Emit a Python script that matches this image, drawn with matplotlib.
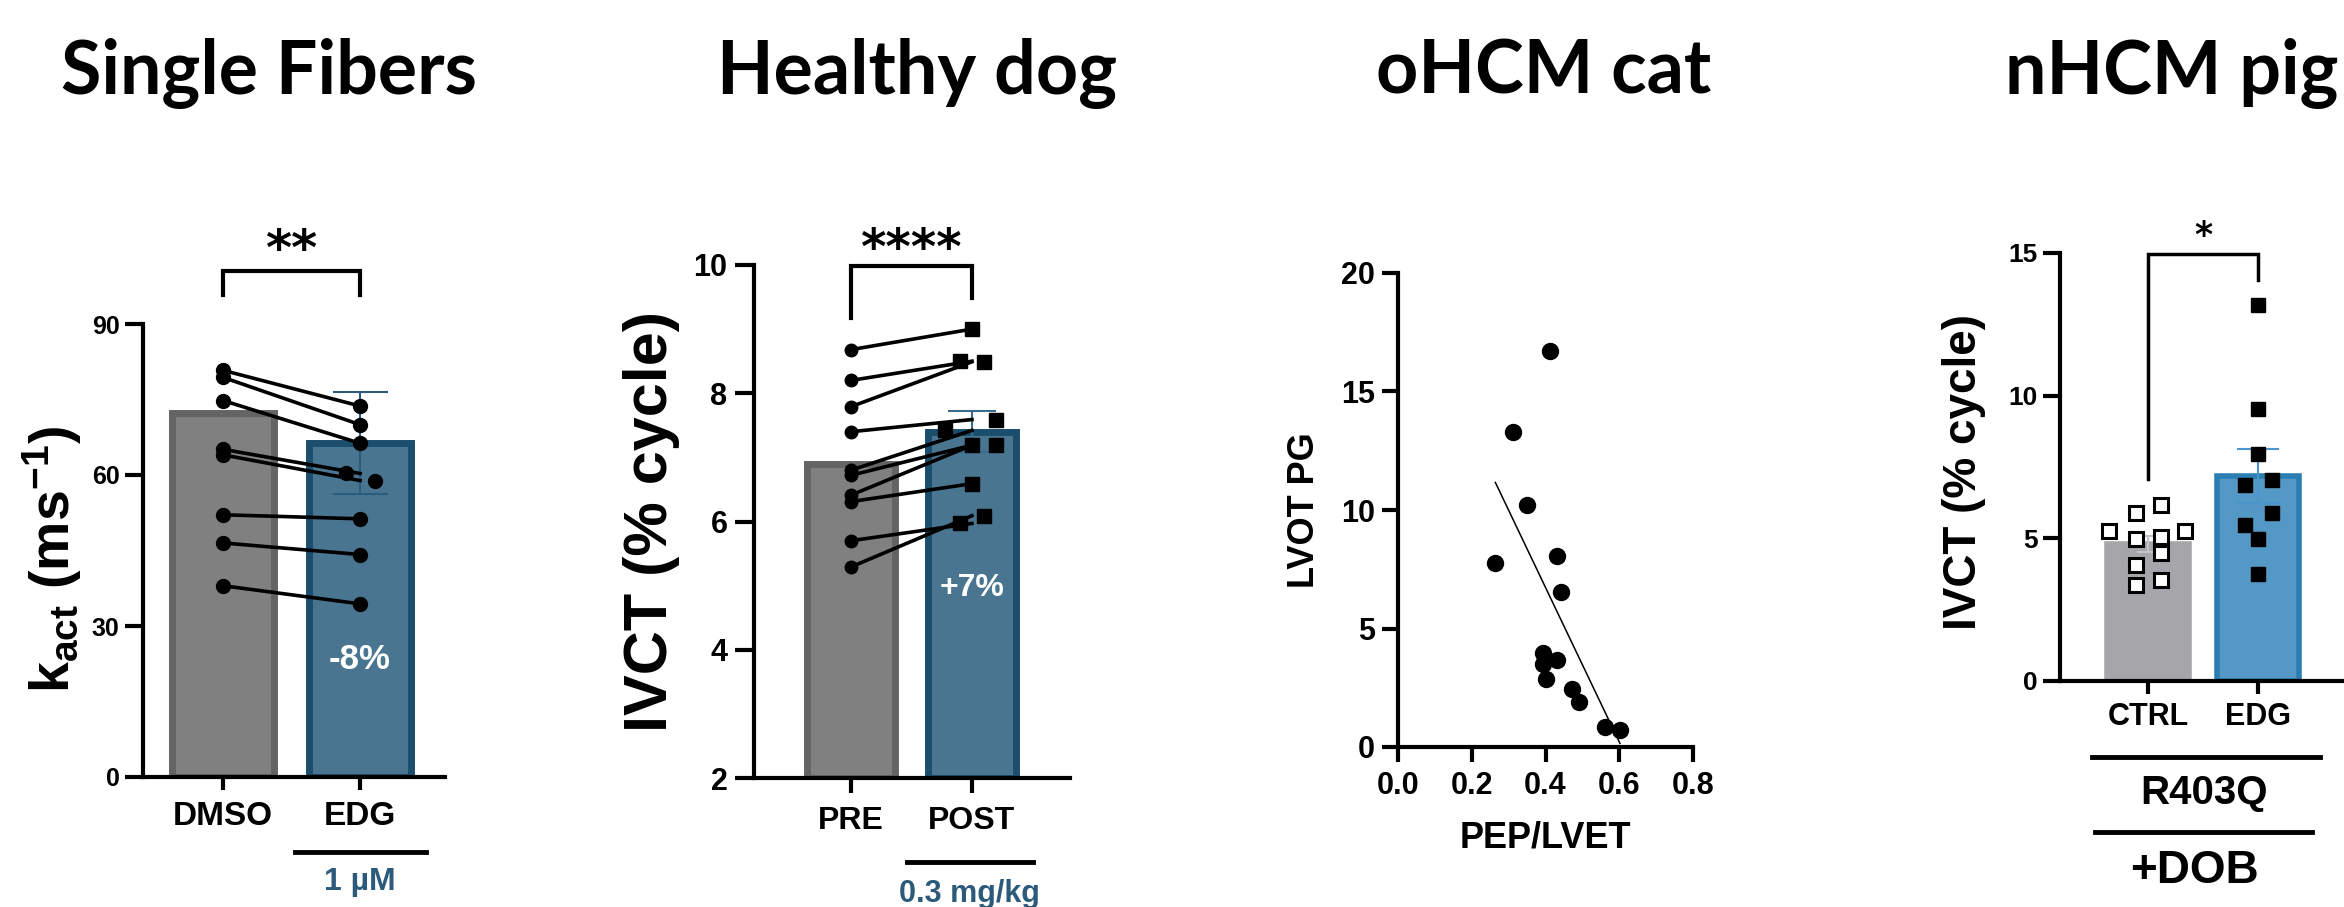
import numpy as np
import matplotlib
matplotlib.use('Agg')
from matplotlib import pyplot as plt

plt.rcParams['font.family'] = 'Liberation Sans'
plt.rcParams['font.weight'] = 'bold'
plt.rcParams['axes.labelweight'] = 'bold'
plt.rcParams['mathtext.fontset'] = 'custom'
plt.rcParams['mathtext.rm'] = 'Liberation Sans:bold'
plt.rcParams['mathtext.bf'] = 'Liberation Sans:bold'
plt.rcParams['mathtext.it'] = 'Liberation Sans:bold'

titles = ['Single Fibers', 'Healthy dog', 'oHCM cat', 'nHCM pig']

# single fibers: k_act, paired fibers
fiber_groups = ['DMSO', 'EDG']
fiber_means = [72.4, 66.3]
fiber_sem = [0.0, 10.1]
fiber_dmso = [80.8, 79.4, 74.8, 65.1, 64.0, 52.1, 46.5, 38.0]
fiber_edg = [73.7, 70.0, 66.3, 60.3, 58.9, 51.3, 44.2, 34.4]
fiber_edg_jitter = [0, 0, 0, -0.1, 0.11, 0, 0, 0]

# healthy dog: IVCT pre / post
dog_groups = ['PRE', 'POST']
dog_means = [6.90, 7.40]
dog_sem = [0.0, 0.32]
dog_pre = [8.68, 8.20, 7.79, 7.40, 6.80, 6.72, 6.41, 6.31, 5.70, 5.29]
dog_post = [9.00, 8.50, 8.49, 7.59, 7.42, 7.19, 7.19, 6.59, 5.97, 6.09]
dog_post_jitter = [0, -0.1, 0.1, 0.2, -0.22, 0, 0.2, 0, -0.1, 0.1]

# oHCM cat: LVOT PG vs PEP/LVET
cat_pep_lvet = [0.413, 0.313, 0.351, 0.264, 0.432, 0.442, 0.392, 0.392,
                0.432, 0.401, 0.471, 0.492, 0.562, 0.602]
cat_lvot_pg = [16.72, 13.31, 10.21, 7.78, 8.06, 6.55, 3.96, 3.50,
               3.65, 2.86, 2.46, 1.90, 0.86, 0.73]

# nHCM pig: IVCT ctrl / edg
pig_groups = ['CTRL', 'EDG']
pig_means = [4.80, 7.19]
pig_sem = [0.29, 0.94]
pig_ctrl = [5.25, 5.89, 6.18, 5.25, 4.96, 5.04, 4.47, 4.07, 3.37, 3.55]
pig_ctrl_jitter = [-0.355, -0.11, 0.115, 0.34, -0.11, 0.115, 0.115, -0.11, -0.11, 0.115]
pig_edg = [13.18, 9.55, 7.97, 6.87, 7.03, 5.89, 5.48, 4.96, 3.74]
pig_edg_jitter = [0, 0, 0, -0.115, 0.13, 0.13, -0.115, 0, 0]

W, H = 2344, 907
fig = plt.figure(figsize=(W / 100, H / 100), dpi=100)

GRAY, GRAY_EDGE = '#808080', '#646464'
BLUE, BLUE_EDGE = '#4a7590', '#1b4d6d'
TXT_BLUE = '#2c5a7a'


def add_ax(left, top, right, bottom):
    return fig.add_axes([left / W, 1 - bottom / H, (right - left) / W, (bottom - top) / H])


def style(ax, ylen, xlen, ypad, xpad, ysize, xsize):
    for s in ['top', 'right']:
        ax.spines[s].set_visible(False)
    for s in ['left', 'bottom']:
        ax.spines[s].set_linewidth(3)
    ax.tick_params(axis='y', length=ylen, width=3, pad=ypad, labelsize=ysize)
    ax.tick_params(axis='x', length=xlen, width=3, pad=xpad, labelsize=xsize)
    ax.patch.set_alpha(0)


def bracket(ax, x0, x1, top, left_end, right_end, lw):
    ax.plot([x0, x0, x1, x1], [left_end, top, top, right_end], color='black',
            lw=lw, clip_on=False, solid_joinstyle='miter')


for t, xc in zip(titles, [269, 917, 1544, 2172]):
    fig.text(xc / W, 1 - 94 / H, t, ha='center', va='baseline', fontsize=53,
             fontfamily='Lato', fontweight='bold')

# ---- panel 1: single fibers
ax1 = add_ax(143, 324, 445, 777)
x = np.arange(2)
ax1.bar(x, fiber_means, width=0.74, color=[GRAY, BLUE], edgecolor=[GRAY_EDGE, BLUE_EDGE],
        linewidth=5, zorder=1)
ax1.errorbar(x[1], fiber_means[1], yerr=fiber_sem[1], color='#2a5c7e', lw=1.5,
             capsize=19.8, capthick=1.5, zorder=2)
for a, b in zip(fiber_dmso, fiber_edg):
    ax1.plot([0, 1], [a, b], color='black', lw=2.6, zorder=3)
ax1.plot(np.zeros(len(fiber_dmso)), fiber_dmso, 'o', color='black', ms=10, zorder=4)
ax1.plot(1 + np.array(fiber_edg_jitter), fiber_edg, 'o', color='black', ms=10, zorder=4)
ax1.set_xlim(-0.584, 1.62)
ax1.set_ylim(0, 90)
ax1.set_yticks([0, 30, 60, 90])
ax1.set_xticks(x, fiber_groups)
style(ax1, 13, 9.5, 4, 8, 18, 24)
bracket(ax1, 0, 1, 100.5, 95.8, 95.8, 3)
ax1.text(0.5, 101.8, '**', ha='center', va='baseline', fontsize=36,
         fontfamily='DejaVu Sans', fontweight='bold')
ax1.text(1, 23.3, '-8%', ha='center', va='center', fontsize=25, color='white')
ax1.plot([0.526, 1.48], [-14.9, -14.9], color='black', lw=3.5, clip_on=False)
ax1.text(1, -20.9, '1 µM', ha='center', va='center', fontsize=23, color=TXT_BLUE)
fig.text(52 / W, 1 - 559 / H, r'k$_{\mathbf{act}}$ (ms$^{\mathbf{-1}}$)', rotation=90,
         ha='center', va='center', fontsize=40)

# ---- panel 2: healthy dog
ax2 = add_ax(754, 265, 1070, 778)
ax2.bar(x, np.array(dog_means) - 2, bottom=2, width=0.73, color=[GRAY, BLUE],
        edgecolor=[GRAY_EDGE, BLUE_EDGE], linewidth=5, zorder=1)
ax2.errorbar(x[1], dog_means[1], yerr=dog_sem[1], color='#3a6c8e', lw=1.5,
             capsize=17, capthick=1.5, zorder=2)
for a, b in zip(dog_pre, dog_post):
    ax2.plot([0, 1], [a, b], color='black', lw=2.6, zorder=3)
ax2.plot(np.zeros(len(dog_pre)), dog_pre, 'o', color='black', ms=9, zorder=4)
ax2.plot(1 + np.array(dog_post_jitter), dog_post, 's', color='black', ms=9.5, zorder=4)
ax2.set_xlim(-0.80, 1.81)
ax2.set_ylim(2, 10)
ax2.set_yticks([2, 4, 6, 8, 10])
ax2.set_xticks(x, dog_groups)
style(ax2, 14, 11, 5, 9, 22, 23)
bracket(ax2, 0, 1, 9.98, 9.17, 9.48, 3)
ax2.text(0.5, 10.01, '****', ha='center', va='baseline', fontsize=35,
         fontfamily='DejaVu Sans', fontweight='bold')
ax2.text(1, 4.96, '+7%', ha='center', va='center', fontsize=23, color='white')
ax2.plot([0.463, 1.504], [0.684, 0.684], color='black', lw=3.5, clip_on=False)
ax2.text(0.98, 0.42, '0.3 mg/kg', ha='center', va='top', fontsize=22, color=TXT_BLUE)
fig.text(652 / W, 1 - 521 / H, 'IVCT (% cycle)', rotation=90, ha='center', va='center',
         fontsize=44)

# ---- panel 3: oHCM cat
ax3 = add_ax(1398, 273, 1693, 747)
ax3.plot(cat_pep_lvet, cat_lvot_pg, 'o', color='black', ms=11.5, zorder=3)
slope, icpt = np.polyfit(cat_pep_lvet, cat_lvot_pg, 1)
xf = np.array([min(cat_pep_lvet), max(cat_pep_lvet)])
ax3.plot(xf, slope * xf + icpt, color='black', lw=1.1, zorder=2)
ax3.set_xlim(0, 0.8)
ax3.set_ylim(0, 20)
ax3.set_xticks([0, 0.2, 0.4, 0.6, 0.8])
ax3.set_xticklabels(['0.0', '0.2', '0.4', '0.6', '0.8'])
ax3.set_yticks([0, 5, 10, 15, 20])
style(ax3, 11.5, 11, 5, 6, 22, 22)
ax3.set_xlabel('PEP/LVET', fontsize=26, fontweight='bold', labelpad=14)
fig.text(1305 / W, 1 - 510 / H, 'LVOT PG', rotation=90, ha='center', va='center',
         fontsize=26)

# ---- panel 4: nHCM pig
ax4 = add_ax(2060, 253, 2360, 681)
ax4.bar(x, pig_means, width=0.745, color=['#a6a6aa', '#5499c5'],
        edgecolor=['#a6a6aa', '#2a7eb2'], linewidth=4, zorder=1)
ax4.errorbar(x[0], pig_means[0], yerr=pig_sem[0], color='#c4c4c8', lw=1.5,
             capsize=8, capthick=1.5, zorder=2)
ax4.errorbar(x[1], pig_means[1], yerr=pig_sem[1], color='#4a96cc', lw=1.5,
             capsize=15, capthick=1.5, zorder=2)
ax4.plot(np.array(pig_ctrl_jitter), pig_ctrl, 's', mfc='white', mec='black', mew=2.2,
         ms=10, zorder=4)
ax4.plot(1 + np.array(pig_edg_jitter), pig_edg, 's', color='black', ms=9.5, zorder=4)
ax4.set_xlim(-0.8, 1.927)
ax4.set_ylim(0, 15)
ax4.set_yticks([0, 5, 10, 15])
ax4.set_xticks(x, pig_groups)
style(ax4, 12, 9, 4, 6, 19, 22)
bracket(ax4, 0, 1, 14.97, 7.08, 14.07, 2.5)
ax4.text(0.5, 15.24, '*', ha='center', va='baseline', fontsize=25,
         fontfamily='DejaVu Sans', fontweight='bold')
ax4.plot([-0.51, 1.56], [-2.65, -2.65], color='black', lw=3.5, clip_on=False)
ax4.text(0.51, -3.91, 'R403Q', ha='center', va='center', fontsize=29)
ax4.plot([-0.48, 1.49], [-5.29, -5.29], color='black', lw=3.5, clip_on=False)
ax4.text(0.42, -6.67, '+DOB', ha='center', va='center', fontsize=33)
fig.text(1964 / W, 1 - 472 / H, 'IVCT (% cycle)', rotation=90, ha='center', va='center',
         fontsize=33)

fig.savefig('out.png', dpi=100)
